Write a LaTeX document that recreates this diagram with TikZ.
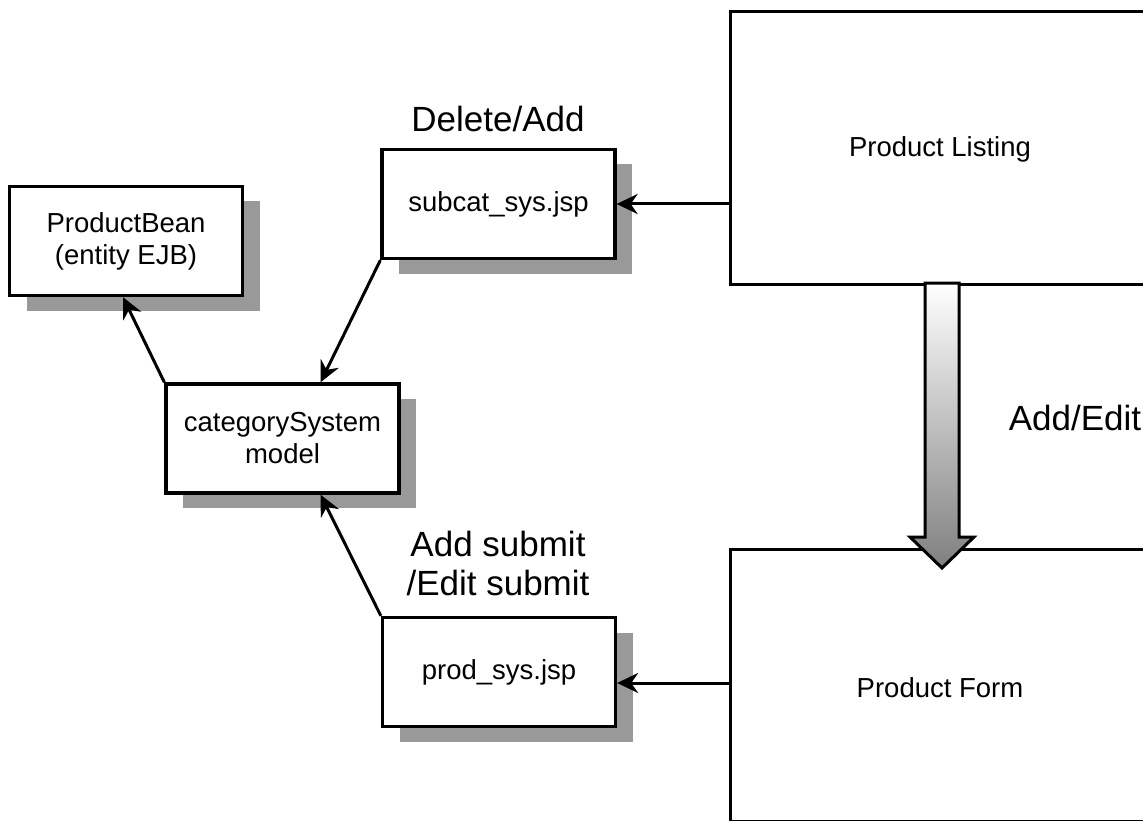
\documentclass[tikz,border=0pt]{standalone}
\usepackage{fontspec}
\setmainfont{Liberation Sans}
\usetikzlibrary{arrows.meta,shadows}

\tikzset{
  boxfont/.style={font=\fontsize{27.5}{32}\selectfont},
  labelfont/.style={font=\fontsize{35}{39}\selectfont},
  smallbox/.style={rectangle, draw, line width=3.3pt, fill=white, boxfont,
    align=center, minimum width=233pt, minimum height=109pt, inner sep=0pt,
    drop shadow={shadow xshift=17pt, shadow yshift=-15pt, fill=black!40, opacity=1}},
  bigbox/.style={rectangle, draw, line width=3.3pt, fill=white, anchor=north west,
    minimum width=480pt, inner sep=0pt},
  arr/.style={line width=3pt, -{Stealth[length=21pt, width=20pt, inset=7pt]}},
}

\begin{document}
\begin{tikzpicture}[x=1pt, y=-1pt]
    \useasboundingbox (0,0) rectangle (1143,821);
    \clip (0,0) rectangle (1143,821);

    % big screens on the right
    \node[bigbox, minimum height=273pt] (listing) at (729,10) {};
    \node[bigbox, minimum height=272pt] (form) at (729,548) {};
    \node[boxfont, anchor=base] (listingtxt) at (940,157) {Product Listing};
    \node[boxfont, anchor=base] (formtxt) at (940,697) {Product Form};

    % small boxes
    \node[smallbox] (bean) at (126,241) {ProductBean\\(entity EJB)};
    \node[smallbox] (subcat) at (498.5,204) {subcat\_sys.jsp};
    \node[smallbox] (catsys) at (282.5,438.5) {categorySystem\\model};
    \node[smallbox] (prodsys) at (499,672) {prod\_sys.jsp};

    % labels
    \node[labelfont, anchor=base] (deladd) at (498,132) {Delete/Add};
    \node[labelfont, align=center] (submit) at (498,563) {Add submit\\/Edit submit};
    \node[labelfont, anchor=base] (addedit) at (1075,430) {Add/Edit};

    % connectors
    \draw[arr] (subcat.east -| listing.west) -- (subcat.east);
    \draw[arr] ([yshift=-11pt]prodsys.east -| form.west) -- ([yshift=-11pt]prodsys.east);
    \draw[arr] (subcat.south west) -- ([xshift=38pt]catsys.north);
    \draw[arr] (prodsys.north west) -- ([xshift=38pt]catsys.south);
    \draw[arr] (catsys.north west) -- ([xshift=-3pt]bean.south);

    % wide arrow from listing to form
    \shade[draw, line width=3pt, line join=miter, top color=white,
      middle color=black!12, bottom color=black!50]
      (925,283) -- (925,537) -- (910,537) -- (942,568) -- (974,537)
      -- (959,537) -- (959,283) -- cycle;
\end{tikzpicture}
\end{document}
